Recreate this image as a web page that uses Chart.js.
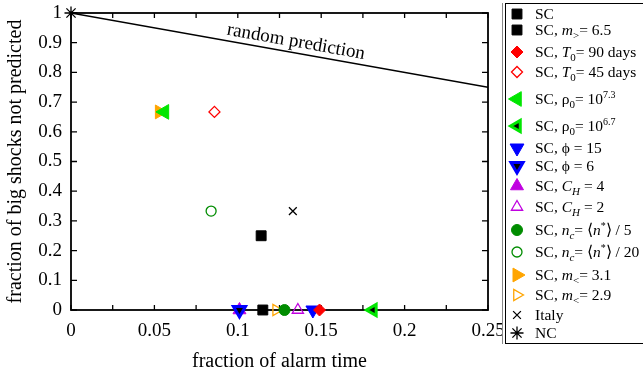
<!DOCTYPE html>
<html>
<head>
<meta charset="utf-8">
<script src="https://cdn.jsdelivr.net/npm/chart.js@4"></script>
<style>
  body { margin: 0; background: #fff; }
  #wrap { position: relative; width: 643px; height: 377px; overflow: hidden; }
  #legend { position: absolute; left: 505px; top: 3px; width: 140px; height: 339px;
    border: 1.5px solid #000; box-shadow: -2px 0 0 0 #fff, -3px 0 0 0 #888; background: #fff; }
  .item { position: absolute; left: 0; height: 20px; white-space: nowrap;
    font: 15.5px "Liberation Serif", "Times New Roman", serif; color: #000; }
  .item canvas { position: absolute; left: 1px; top: 0; }
  .item span { position: absolute; left: 29px; top: 1px; line-height: 18px; }
  .item sub { font-size: 11px; position: relative; top: 4px; vertical-align: baseline; }
  .item sup { font-size: 10px; position: relative; top: -6px; vertical-align: baseline; }
</style>
</head>
<body>
<div id="wrap">
  <canvas id="chart" width="643" height="377"></canvas>
  <div id="legend"></div>
</div>
<script>
// legend labels (html so the sub/superscripts work)
const seriesLabels = [
  "SC",
  "SC, <i>m</i><sub>&gt;</sub>= 6.5",
  "SC, <i>T</i><sub>0</sub>= 90 days",
  "SC, <i>T</i><sub>0</sub>= 45 days",
  "SC, ρ<sub>0</sub>= 10<sup>7.3</sup>",
  "SC, ρ<sub>0</sub>= 10<sup>6.7</sup>",
  "SC, ϕ = 15",
  "SC, ϕ = 6",
  "SC, <i>C</i><sub><i>H</i></sub> = 4",
  "SC, <i>C</i><sub><i>H</i></sub> = 2",
  "SC, <i>n</i><sub><i>c</i></sub>= ⟨<i>n</i><sup>*</sup>⟩ / 5",
  "SC, <i>n</i><sub><i>c</i></sub>= ⟨<i>n</i><sup>*</sup>⟩ / 20",
  "SC, <i>m</i><sub>&lt;</sub>= 3.1",
  "SC, <i>m</i><sub>&lt;</sub>= 2.9",
  "Italy",
  "NC"
];
const alarmTime    = [0.115, 0.114, 0.149, 0.086, 0.056, 0.181, 0.145, 0.101, 0.101, 0.136, 0.128, 0.084, 0.053, 0.123, 0.133, 0];
const missedShocks = [0,     0.25,  0,     0.667, 0.667, 0,     0,     0,     0,     0,     0,     0.333, 0.667, 0,     0.333, 1];

const randomX = [0, 0.25];
const randomY = [1, 0.75];

const xTickValues = [0, 0.05, 0.1, 0.15, 0.2, 0.25];
const yTickValues = [0, 0.1, 0.2, 0.3, 0.4, 0.5, 0.6, 0.7, 0.8, 0.9, 1];
const xMinorTicks = [0.025, 0.075, 0.125, 0.175, 0.225];

// marker look for each series
const GREEN = "#00e600", BLUE = "#0000ff", VIOLET = "#c000e0", DKGREEN = "#008c00", ORANGE = "#ffa500", NONE = "rgba(0,0,0,0)";
const markers = [
  { style: "rect", rot: 0, r: 7, fill: "#000", line: "#000", bw: 1 },
  { style: "rect", rot: 0, r: 7, fill: "#000", line: "#000", bw: 1 },
  { style: "rectRot", rot: 0, r: 6, fill: "#ff0000", line: "#ff0000", bw: 1 },
  { style: "rectRot", rot: 0, r: 5.5, fill: NONE, line: "#ff0000", bw: 1.3 },
  { style: "triangle", rot: 270, r: 8.5, fill: GREEN, line: GREEN, bw: 1 },
  { style: "triangle", rot: 270, r: 6.5, fill: "#000", line: GREEN, bw: 3 },
  { style: "triangle", rot: 180, r: 8, fill: BLUE, line: BLUE, bw: 1 },
  { style: "triangle", rot: 180, r: 7, fill: "#000", line: BLUE, bw: 3 },
  { style: "triangle", rot: 0, r: 7.5, fill: VIOLET, line: VIOLET, bw: 1 },
  { style: "triangle", rot: 0, r: 6.5, fill: NONE, line: VIOLET, bw: 1.3 },
  { style: "circle", rot: 0, r: 5.5, fill: DKGREEN, line: DKGREEN, bw: 1 },
  { style: "circle", rot: 0, r: 5, fill: NONE, line: DKGREEN, bw: 1.3 },
  { style: "triangle", rot: 90, r: 8, fill: ORANGE, line: ORANGE, bw: 1 },
  { style: "triangle", rot: 90, r: 6.5, fill: NONE, line: ORANGE, bw: 1.3 },
  { style: "crossRot", rot: 0, r: 5.5, fill: NONE, line: "#000", bw: 1.3 },
  { style: "star", rot: 0, r: 6.5, fill: NONE, line: "#000", bw: 1.3 }
];
const legendY = [14, 30, 52, 72, 99, 126, 148, 166, 186, 207, 230, 252, 275, 295, 315, 333];

const datasets = seriesLabels.map((lab, i) => ({
  type: "scatter",
  label: lab,
  data: [{ x: alarmTime[i], y: missedShocks[i] }],
  pointStyle: markers[i].style,
  rotation: markers[i].rot,
  pointRadius: markers[i].r,
  pointHoverRadius: markers[i].r,
  backgroundColor: markers[i].fill,
  borderColor: markers[i].line,
  borderWidth: markers[i].bw,
  clip: false,
  order: 1
}));
datasets.push({
  type: "line",
  label: "random prediction",
  data: randomX.map((x, i) => ({ x, y: randomY[i] })),
  borderColor: "#000",
  borderWidth: 1.5,
  pointRadius: 0,
  order: 2
});

const serif = "'Liberation Serif', 'Times New Roman', serif";

const frame = {
  id: "frame",
  beforeDatasetsDraw(chart) {
    const { ctx, chartArea: a, scales: { x, y } } = chart;
    ctx.save();
    ctx.strokeStyle = "#000";
    ctx.lineWidth = 1.8;
    ctx.strokeRect(a.left, a.top, a.right - a.left, a.bottom - a.top);
    ctx.lineWidth = 1.3;
    ctx.beginPath();
    xTickValues.concat(xMinorTicks).forEach(v => {
      const px = x.getPixelForValue(v);
      ctx.moveTo(px, a.bottom); ctx.lineTo(px, a.bottom - 5);
      ctx.moveTo(px, a.top); ctx.lineTo(px, a.top + 5);
    });
    yTickValues.forEach(v => {
      const py = y.getPixelForValue(v);
      ctx.moveTo(a.left, py); ctx.lineTo(a.left + 6, py);
      ctx.moveTo(a.right, py); ctx.lineTo(a.right - 6, py);
    });
    ctx.stroke();
    ctx.restore();
  },
  afterDatasetsDraw(chart) {
    const { ctx, scales: { x, y } } = chart;
    const x0 = x.getPixelForValue(randomX[0]), y0 = y.getPixelForValue(randomY[0]);
    const x1 = x.getPixelForValue(randomX[1]), y1 = y.getPixelForValue(randomY[1]);
    const ang = Math.atan2(y1 - y0, x1 - x0);
    const t = 0.535;
    ctx.save();
    ctx.translate(x0 + (x1 - x0) * t, y0 + (y1 - y0) * t);
    ctx.rotate(ang);
    ctx.font = "19px " + serif;
    ctx.fillStyle = "#000";
    ctx.textAlign = "center";
    ctx.textBaseline = "alphabetic";
    ctx.fillText("random prediction", 0, -6);
    ctx.restore();
  }
};

new Chart(document.getElementById("chart"), {
  type: "scatter",
  data: { datasets },
  options: {
    responsive: false,
    animation: false,
    layout: { padding: { top: 13, right: 155, left: 0, bottom: 0 } },
    plugins: { legend: { display: false }, tooltip: { enabled: false } },
    scales: {
      x: {
        type: "linear", min: 0, max: 0.25,
        afterFit: s => { s.height = 67; s.paddingLeft = 0; s.paddingRight = 0; },
        afterBuildTicks: s => { s.ticks = xTickValues.map(v => ({ value: v })); },
        grid: { display: false, drawTicks: false },
        border: { display: false },
        ticks: { padding: 10, color: "#000", font: { family: serif, size: 19 }, maxRotation: 0,
          callback: v => String(Math.round(v * 100) / 100) },
        title: { display: true, text: "fraction of alarm time", color: "#000",
          font: { family: serif, size: 20 }, padding: { top: 0, bottom: 3 } }
      },
      y: {
        type: "linear", min: 0, max: 1,
        afterFit: s => { s.width = 71; s.paddingTop = 0; s.paddingBottom = 0; },
        afterBuildTicks: s => { s.ticks = yTickValues.map(v => ({ value: v })); },
        grid: { display: false, drawTicks: false },
        border: { display: false },
        ticks: { padding: 9, color: "#000", font: { family: serif, size: 19 },
          callback: v => String(Math.round(v * 10) / 10) },
        title: { display: true, text: "fraction of big shocks not predicted", color: "#000",
          font: { family: serif, size: 20 }, padding: { top: 4, bottom: 0 } }
      }
    }
  },
  plugins: [frame]
});

// html legend, markers drawn with Chart.js' own point routine
const legendBox = document.getElementById("legend");
seriesLabels.forEach((lab, i) => {
  const item = document.createElement("div");
  item.className = "item";
  item.style.top = (legendY[i] - 14) + "px";
  const c = document.createElement("canvas");
  c.width = 20; c.height = 20;
  const m = markers[i];
  const cx = c.getContext("2d");
  cx.fillStyle = m.fill;
  cx.strokeStyle = m.line;
  cx.lineWidth = m.bw;
  Chart.helpers.drawPoint(cx, { pointStyle: m.style, rotation: m.rot, radius: m.r, borderWidth: m.bw }, 10, 10);
  const sp = document.createElement("span");
  sp.innerHTML = lab;
  item.appendChild(c);
  item.appendChild(sp);
  legendBox.appendChild(item);
});
</script>
</body>
</html>
